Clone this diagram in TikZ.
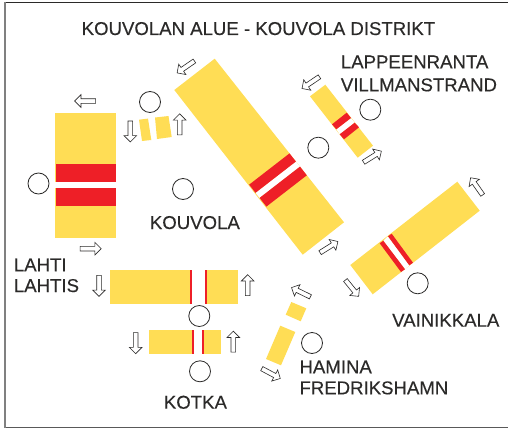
\documentclass[tikz,border=0pt]{standalone}
\usepackage{fontspec}
\setmainfont[FakeBold=0.25]{Liberation Sans}
\usetikzlibrary{shapes.arrows}
\definecolor{band}{HTML}{FFDD55}
\definecolor{stripe}{HTML}{EE1F27}
\definecolor{ink}{HTML}{2B2A29}
\tikzset{
  x=1pt,y=-1pt,
  bandfill/.style={fill=band,draw=none},
  stripefill/.style={fill=stripe,draw=none},
  station/.style={circle,draw=ink,fill=white,line width=0.8pt,minimum size=21pt,inner sep=0pt},
  blockarrow/.style={single arrow,draw=ink,fill=white,line width=0.6pt,minimum height=21pt,minimum width=12.5pt,single arrow head extend=4pt,single arrow tip angle=90,inner sep=2pt},
  label/.style={anchor=base west,inner sep=0pt,text=ink,font=\fontsize{18.6}{18.6}\selectfont},
}
\begin{document}
\begin{tikzpicture}
\useasboundingbox (0,0) rectangle (508,428);
\fill[white] (0,0) rectangle (508,428);
% frame
\draw[ink,line width=1pt] (5,2.4) -- (508,2.4);
\draw[black!65,line width=1.2pt] (5,427.2) -- (508,427.2);
\draw[gray,line width=2.2pt] (5.1,2) -- (5.1,428);
% Lahti
\fill[bandfill] (55,113) rectangle (116,238);
\fill[white] (55,182) rectangle (116,188);
\fill[stripefill] (55.5,164) rectangle (116,182);
\fill[stripefill] (55.5,188) rectangle (116,206);
% small pair
\fill[bandfill] (139,119.7) -- (148,118.6) -- (151.3,140) -- (142,141) -- cycle;
\fill[bandfill] (155,117.5) -- (168.5,116) -- (171.7,137) -- (157,139) -- cycle;
% Kouvola
\fill[bandfill] (214.7,58.7) -- (174.3,90) -- (302.7,254.7) -- (344,222.3) -- cycle;
\fill[white] (295.9,161.5) -- (255.5,192.8) -- (259.6,197.9) -- (300,166.6) -- cycle;
\fill[stripefill] (289.5,153.4) -- (295.9,161.5) -- (255.5,192.8) -- (249.1,184.7) -- cycle;
\fill[stripefill] (300,166.6) -- (306.8,175.3) -- (266.4,206.6) -- (259.6,197.9) -- cycle;
% Lappeenranta
\fill[bandfill] (325.3,84.7) -- (310,96.3) -- (357.7,157.7) -- (373,145.7) -- cycle;
\fill[white] (351,118) -- (336.3,129.3) -- (339.7,134.3) -- (354.7,122.7) -- cycle;
\fill[stripefill] (346.7,112.7) -- (351,118) -- (336.3,129.3) -- (332,124.3) -- cycle;
\fill[stripefill] (354.7,122.7) -- (359,127.3) -- (344,139.3) -- (339.7,134.3) -- cycle;
% Vainikkala
\fill[bandfill] (350.3,265) -- (372.7,294.3) -- (479.7,210.7) -- (457.3,181.7) -- cycle;
\fill[white] (383.3,240.7) -- (405,269.3) -- (409.3,265.3) -- (388,236.3) -- cycle;
\fill[stripefill] (379.7,243.3) -- (383.3,240.7) -- (405,269.3) -- (401,272) -- cycle;
\fill[stripefill] (388,236.3) -- (391.7,233.7) -- (413,262.7) -- (409.3,265.3) -- cycle;
% Hamina
\fill[bandfill] (291.3,302) -- (306.3,308.3) -- (300.7,321.3) -- (285.7,314.7) -- cycle;
\fill[bandfill] (280.3,325.7) -- (295.3,332) -- (281,365.3) -- (266,359) -- cycle;
% Lahtis strip
\fill[bandfill] (110.3,269.7) rectangle (190.5,304);
\fill[bandfill] (205.5,269.7) rectangle (238.3,304);
\fill[stripefill] (190,269.7) rectangle (191.5,304);
\fill[stripefill] (205,269.7) rectangle (206.5,304);
% Kotka strip
\fill[bandfill] (149,330) rectangle (193,354);
\fill[bandfill] (203,330) rectangle (220.7,354);
\fill[stripefill] (192.2,330) rectangle (193.7,354);
\fill[stripefill] (202.3,330) rectangle (203.8,354);
% stations
\node[station] (s1) at (38.5,183.5) {};
\node[station] (s2) at (150,102) {};
\node[station] (s3) at (183,189) {};
\node[station] (s4) at (370.3,109.7) {};
\node[station] (s5) at (318.3,147.7) {};
\node[station] (s6) at (417.7,283.3) {};
\node[station] (s7) at (312,343) {};
\node[station] (s8) at (199.3,316) {};
\node[station] (s9) at (200,371.3) {};
% arrows
\node[blockarrow,rotate=214.6] (a1) at (186.7,66.3) {};
\node[blockarrow,rotate=180] (a2) at (86.3,101) {};
\node[blockarrow,rotate=270] (a3) at (130.3,130.3) {};
\node[blockarrow,rotate=90] (a4) at (179.7,125.5) {};
\node[blockarrow,rotate=214] (a5) at (311.7,82) {};
\node[blockarrow,rotate=32] (a6) at (371.5,157.3) {};
\node[blockarrow,rotate=125] (a7) at (477.3,187.3) {};
\node[blockarrow,rotate=32] (a8) at (328,247.7) {};
\node[blockarrow,rotate=-51] (a9) at (351.3,287.3) {};
\node[blockarrow,rotate=154] (a10) at (302,292.7) {};
\node[blockarrow,rotate=-28] (a11) at (270,373) {};
\node[blockarrow,rotate=0] (a12) at (89.5,248.7) {};
\node[blockarrow,rotate=270] (a13) at (99,284.7) {};
\node[blockarrow,rotate=90] (a14) at (247.7,286.3) {};
\node[blockarrow,rotate=270] (a15) at (135.7,342) {};
\node[blockarrow,rotate=90] (a16) at (233.3,342.8) {};
% labels
\node[label] (t0) at (81.5,35) {KOUVOLAN ALUE - KOUVOLA DISTRIKT};
\node[label] (t1) at (340.7,68.3) {LAPPEENRANTA};
\node[label] (t2) at (340.7,91.3) {VILLMANSTRAND};
\node[label] (t3) at (149.7,229) {KOUVOLA};
\node[label] (t4) at (13.7,271.3) {LAHTI};
\node[label] (t5) at (13.7,292) {LAHTIS};
\node[label] (t6) at (163.7,408.7) {KOTKA};
\node[label] (t7) at (392,326.7) {VAINIKKALA};
\node[label] (t8) at (299.3,373.3) {HAMINA};
\node[label] (t9) at (299.3,394.3) {FREDRIKSHAMN};
\end{tikzpicture}
\end{document}
